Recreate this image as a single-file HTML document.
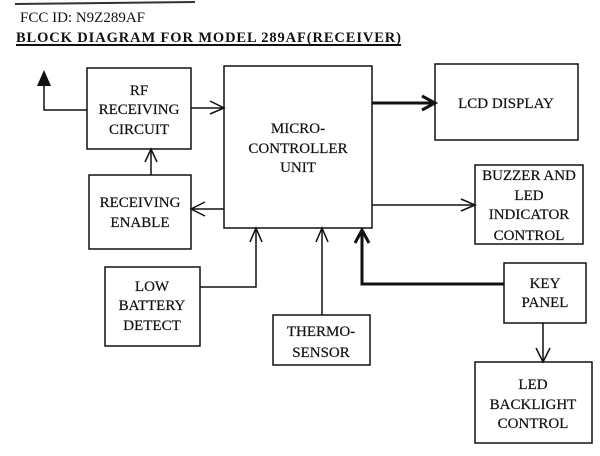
<!DOCTYPE html>
<html><head><style>
body{margin:0;background:#fff;}
svg text{font-family:"Liberation Serif",serif;fill:#111;}
</style></head><body>
<svg width="600" height="451" viewBox="0 0 600 451" xmlns="http://www.w3.org/2000/svg">
<rect width="600" height="451" fill="#fff"/>
<line x1="15" y1="4" x2="195" y2="2" stroke="#333" stroke-width="2"/>
<text x="20" y="22" font-size="15">FCC ID: N9Z289AF</text>
<text x="16" y="42" font-size="14.5" font-weight="bold" textLength="385">BLOCK DIAGRAM FOR MODEL 289AF(RECEIVER)</text>
<line x1="16" y1="45" x2="401" y2="45" stroke="#111" stroke-width="2"/>
<g fill="none" stroke="#111" stroke-width="1.5">
<rect x="87" y="68" width="104" height="81"/>
<rect x="224" y="66" width="148" height="162"/>
<rect x="89" y="175" width="102" height="74"/>
<rect x="435" y="64" width="143" height="76"/>
<rect x="475" y="165" width="108" height="79"/>
<rect x="105" y="267" width="95" height="79"/>
<rect x="273" y="315" width="97" height="50"/>
<rect x="504" y="263" width="82" height="60"/>
<rect x="475" y="362" width="117" height="81"/>
<polyline points="87,110 44,110 44,82"/>
<line x1="191" y1="108" x2="224" y2="108"/><polyline points="210,101 224,108 210,114"/>
<line x1="151" y1="175" x2="151" y2="149"/><polyline points="145,162 151,149 157,162"/>
<line x1="224" y1="209" x2="191" y2="209"/><polyline points="205,202 191,209 205,216"/>
<line x1="372" y1="205" x2="475" y2="205"/><polyline points="461,199 475,205 461,211"/>
<polyline points="200,287 256,287 256,228"/><polyline points="250,242 256,228 262,242"/>
<line x1="322" y1="315" x2="322" y2="228"/><polyline points="316,242 322,228 328,242"/>
<line x1="543" y1="323" x2="543" y2="362"/><polyline points="536,348 543,362 550,348"/>
</g>
<polygon points="37,86 44,70 51,86" fill="#111"/>
<g fill="none" stroke="#111" stroke-width="3">
<line x1="372" y1="103" x2="435" y2="103"/><polyline points="422,96 435,103 422,110"/>
<polyline points="504,284 362,284 362,230"/><polyline points="355,243 362,230 369,243"/>
</g>
<g font-size="15" text-anchor="middle" stroke="#111" stroke-width="0.2">
<text x="139" y="95">RF</text><text x="139" y="114">RECEIVING</text><text x="139" y="134">CIRCUIT</text>
<text x="298" y="133">MICRO-</text><text x="298" y="153">CONTROLLER</text><text x="298" y="172">UNIT</text>
<text x="140" y="207">RECEIVING</text><text x="140" y="227">ENABLE</text>
<text x="506" y="108">LCD DISPLAY</text>
<text x="529" y="180">BUZZER AND</text><text x="529" y="200">LED</text><text x="529" y="219">INDICATOR</text><text x="529" y="240">CONTROL</text>
<text x="152" y="291">LOW</text><text x="152" y="310">BATTERY</text><text x="152" y="330">DETECT</text>
<text x="321" y="336">THERMO-</text><text x="321" y="357">SENSOR</text>
<text x="545" y="288">KEY</text><text x="545" y="307">PANEL</text>
<text x="533" y="389">LED</text><text x="533" y="409">BACKLIGHT</text><text x="533" y="428">CONTROL</text>
</g>
</svg>
</body></html>
